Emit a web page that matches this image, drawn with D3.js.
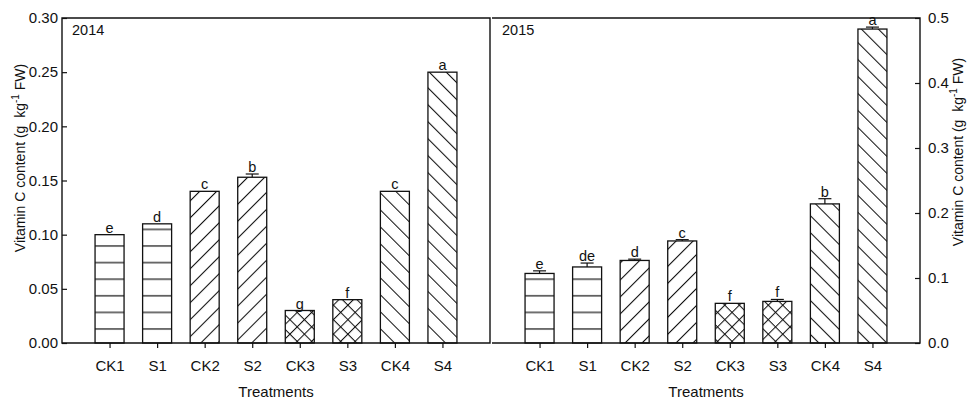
<!DOCTYPE html>
<html>
<head>
<meta charset="utf-8">
<script src="https://cdn.jsdelivr.net/npm/d3@7"></script>
<style>
  html, body { margin: 0; padding: 0; background: #fff; }
  svg { display: block; }
  text { font-family: "Liberation Sans", Arial, Helvetica, sans-serif; fill: #111; }
</style>
</head>
<body>
<svg id="chart" width="967" height="401"></svg>
<script>
// Treatments on the x axis
const categories = ["CK1", "S1", "CK2", "S2", "CK3", "S3", "CK4", "S4"];

// 2014 vitamin C content (g kg-1 FW), standard errors and significance letters
const vc2014  = [0.100, 0.110, 0.140, 0.153, 0.030, 0.040, 0.140, 0.250];
const err2014 = [0, 0, 0, 0.003, 0, 0, 0, 0];
const sig2014 = ["e", "d", "c", "b", "g", "f", "c", "a"];

// 2015 vitamin C content (g kg-1 FW), standard errors and significance letters
const vc2015  = [0.107, 0.117, 0.127, 0.157, 0.061, 0.064, 0.214, 0.483];
const err2015 = [0.004, 0.006, 0.002, 0.002, 0, 0.003, 0.008, 0.003];
const sig2015 = ["e", "de", "d", "c", "f", "f", "b", "a"];

// Fill pattern per treatment pair
const fills = ["horiz", "horiz", "fwd", "fwd", "cross", "cross", "back", "back"];

// Axis tick values
const ticks2014 = [0, 0.05, 0.10, 0.15, 0.20, 0.25, 0.30];
const ticks2015 = [0, 0.1, 0.2, 0.3, 0.4, 0.5];

const ink = "#111";
const svg = d3.select("#chart");
const defs = svg.append("defs");

// Hatch patterns
const hp = defs.append("pattern").attr("id", "horiz")
  .attr("patternUnits", "userSpaceOnUse").attr("width", 10).attr("height", 16.6);
hp.append("line").attr("x1", 0).attr("x2", 10).attr("y1", 13.6).attr("y2", 13.6)
  .attr("stroke", ink).attr("stroke-width", 1.2);

function diag(id, angle, size, cross) {
  const p = defs.append("pattern").attr("id", id)
    .attr("patternUnits", "userSpaceOnUse")
    .attr("width", size).attr("height", size)
    .attr("patternTransform", `rotate(${angle})`);
  p.append("line").attr("x1", 0.5).attr("x2", 0.5).attr("y1", 0).attr("y2", size)
    .attr("stroke", ink).attr("stroke-width", 1.1);
  if (cross) {
    p.append("line").attr("y1", 0.5).attr("y2", 0.5).attr("x1", 0).attr("x2", size)
      .attr("stroke", ink).attr("stroke-width", 1.1);
  }
}
diag("fwd", 45, 12, false);
diag("back", -45, 12, false);
diag("cross", 45, 10.25, true);

const plotTop = 18, plotBottom = 343;
const barW = 29;
const fs = "15px";

function panel(opts) {
  const { x0, x1, values, errors, letters, domain, tickVals, fmt, side, year } = opts;
  const g = svg.append("g");
  const x = d3.scalePoint().domain(categories).range([x0, x1]).padding(1);
  const y = d3.scaleLinear().domain(domain).range([plotBottom, plotTop]);

  // bars
  g.selectAll("rect.bar").data(categories).join("rect")
    .attr("class", "bar")
    .attr("x", d => x(d) - barW / 2)
    .attr("y", (d, i) => y(values[i]))
    .attr("width", barW)
    .attr("height", (d, i) => y(0) - y(values[i]))
    .attr("fill", (d, i) => `url(#${fills[i]})`)
    .attr("stroke", ink).attr("stroke-width", 1.3);

  // error bars (upper half)
  categories.forEach((c, i) => {
    if (errors[i] > 0) {
      const cx = x(c);
      g.append("line").attr("x1", cx).attr("x2", cx)
        .attr("y1", y(values[i])).attr("y2", y(values[i] + errors[i]))
        .attr("stroke", ink).attr("stroke-width", 1.2);
      g.append("line").attr("x1", cx - 6.5).attr("x2", cx + 6.5)
        .attr("y1", y(values[i] + errors[i])).attr("y2", y(values[i] + errors[i]))
        .attr("stroke", ink).attr("stroke-width", 1.2);
    }
  });

  // significance letters
  g.selectAll("text.sig").data(categories).join("text")
    .attr("class", "sig")
    .attr("x", d => x(d))
    .attr("y", (d, i) => y(values[i] + errors[i]) - 2)
    .attr("text-anchor", "middle")
    .style("font-size", "14.5px")
    .text((d, i) => letters[i]);

  // x axis
  const xa = g.append("g").attr("transform", `translate(0,${plotBottom})`)
    .call(d3.axisBottom(x).tickSize(5).tickPadding(12).tickSizeOuter(0));
  xa.select(".domain").remove();
  xa.selectAll("line").attr("stroke", ink).attr("stroke-width", 1.2);
  xa.selectAll("text").style("font-size", fs).attr("fill", ink);

  // y axis
  let ya;
  if (side === "left") {
    ya = g.append("g").attr("transform", `translate(${x0},0)`)
      .call(d3.axisLeft(y).tickValues(tickVals).tickFormat(d3.format(fmt))
        .tickSize(-5).tickPadding(4).tickSizeOuter(0));
  } else {
    ya = g.append("g").attr("transform", `translate(${x1},0)`)
      .call(d3.axisRight(y).tickValues(tickVals).tickFormat(d3.format(fmt))
        .tickSize(-5).tickPadding(8).tickSizeOuter(0));
  }
  ya.select(".domain").remove();
  ya.selectAll("line").attr("stroke", ink).attr("stroke-width", 1.2);
  ya.selectAll("text").style("font-size", fs).attr("fill", ink);

  // frame
  const fr = d3.path();
  if (side === "left") {
    fr.moveTo(x0, plotTop); fr.lineTo(x1, plotTop); fr.lineTo(x1, plotBottom);
    fr.lineTo(x0, plotBottom); fr.closePath();
  } else {
    fr.moveTo(x0, plotTop); fr.lineTo(x1, plotTop); fr.lineTo(x1, plotBottom); fr.lineTo(x0, plotBottom);
  }
  g.append("path").attr("d", fr.toString()).attr("fill", "none")
    .attr("stroke", ink).attr("stroke-width", 1.4);

  // year label
  g.append("text").attr("x", x0 + 10).attr("y", 35)
    .style("font-size", "14.5px").text(year);

  // x title
  g.append("text").attr("x", (x0 + x1) / 2).attr("y", 397)
    .attr("text-anchor", "middle").style("font-size", fs).text("Treatments");

  return { x, y };
}

panel({ x0: 62, x1: 490, values: vc2014, errors: err2014, letters: sig2014,
  domain: [0, 0.30], tickVals: ticks2014, fmt: ".2f", side: "left", year: "2014" });
panel({ x0: 492, x1: 920, values: vc2015, errors: err2015, letters: sig2015,
  domain: [0, 0.5], tickVals: ticks2015, fmt: ".1f", side: "right", year: "2015" });

// y titles
function yTitle(tx, ty) {
  const t = svg.append("text")
    .attr("transform", `translate(${tx},${ty}) rotate(-90)`)
    .attr("text-anchor", "middle")
    .style("font-size", "14px");
  t.append("tspan").text("Vitamin C content (g\u00a0\u00a0kg");
  t.append("tspan").attr("dy", -6).style("font-size", "10px").text("-1");
  t.append("tspan").attr("dy", 6).text(" FW)");
}
yTitle(25, 158);
yTitle(963, 152);
</script>
</body>
</html>
